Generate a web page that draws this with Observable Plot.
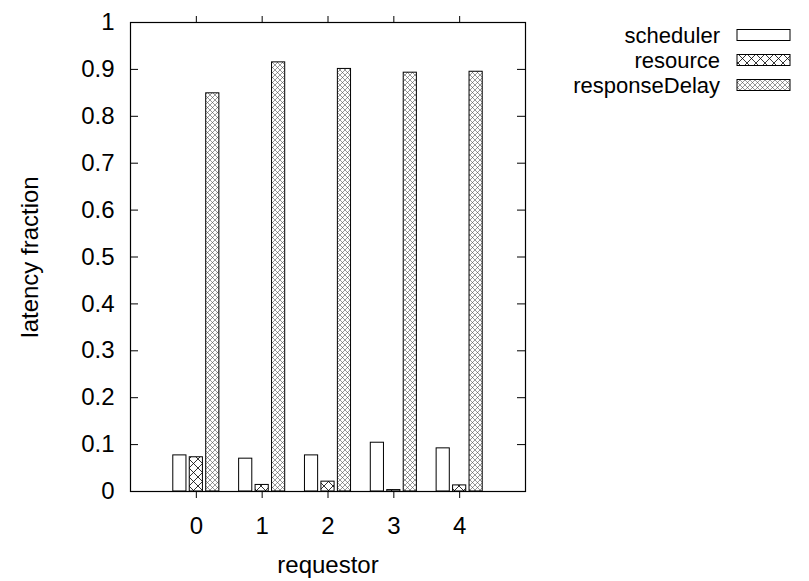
<!DOCTYPE html>
<html>
<head>
<meta charset="utf-8">
<script src="https://cdn.jsdelivr.net/npm/d3@7"></script>
<script src="https://cdn.jsdelivr.net/npm/@observablehq/plot@0.6"></script>
<style>
  body { margin: 0; background: #fff; }
</style>
</head>
<body>
<div id="chart"></div>
<script>
// Latency breakdown per requestor (fractions of total latency)
const requestors = [0, 1, 2, 3, 4];
const series = ["scheduler", "resource", "responseDelay"];
const scheduler = [0.077, 0.070, 0.077, 0.104, 0.092];
const resource = [0.073, 0.014, 0.021, 0.003, 0.013];
const responseDelay = [0.849, 0.915, 0.901, 0.893, 0.895];
const yTicks = [0, 0.1, 0.2, 0.3, 0.4, 0.5, 0.6, 0.7, 0.8, 0.9, 1];

const W = 809, H = 581;
const M = {top: 22, right: 284, bottom: 90, left: 130};
const plotW = W - M.left - M.right;
const FONT = "'Liberation Sans', Arial, Helvetica, sans-serif";

// clustered histogram layout: three bars per requestor
const slot = 0.25, barWidth = 0.2;
const valuesBySeries = {scheduler, resource, responseDelay};
const fills = {
  scheduler: "white",
  resource: "url(#pat-cross)",
  responseDelay: "url(#pat-dense)"
};
const bars = s => {
  const j = series.indexOf(s);
  return requestors.map((r, i) => ({
    requestor: r,
    value: valuesBySeries[s][i],
    x1: r + (j - 1) * slot - barWidth / 2,
    x2: r + (j - 1) * slot + barWidth / 2
  }));
};

// hatch patterns for the bar fills
function patterns() {
  const defs = d3.create("svg:defs");
  const cross = defs.append("pattern")
    .attr("id", "pat-cross").attr("patternUnits", "userSpaceOnUse")
    .attr("width", 9).attr("height", 9);
  cross.append("rect").attr("width", 9).attr("height", 9).attr("fill", "white");
  cross.append("path").attr("d", "M0,0L9,9M9,0L0,9")
    .attr("stroke", "black").attr("stroke-width", 0.8).attr("fill", "none");
  const dense = defs.append("pattern")
    .attr("id", "pat-dense").attr("patternUnits", "userSpaceOnUse")
    .attr("width", 5).attr("height", 5);
  dense.append("rect").attr("width", 5).attr("height", 5).attr("fill", "white");
  dense.append("path").attr("d", "M0,0L5,5M5,0L0,5")
    .attr("stroke", "#444").attr("stroke-width", 0.55).attr("fill", "none");
  return defs.node();
}

// key in the top-right corner, outside the frame
function legend(index, scales, values, dims) {
  const xr = dims.width - dims.marginRight;
  const g = d3.create("svg:g")
    .attr("font-family", FONT).attr("font-size", 22);
  series.forEach((s, j) => {
    const cy = dims.marginTop + 13 + j * 25;
    g.append("text").attr("x", xr + 195).attr("y", cy)
      .attr("text-anchor", "end").attr("dy", "0.35em").attr("fill", "black").text(s);
    g.append("rect").attr("x", xr + 212).attr("y", cy - 5.5)
      .attr("width", 53).attr("height", 11)
      .attr("fill", fills[s]).attr("stroke", "black").attr("stroke-width", 1);
  });
  return g.node();
}

const chart = Plot.plot({
  width: W,
  height: H,
  marginTop: M.top,
  marginRight: M.right,
  marginBottom: M.bottom,
  marginLeft: M.left,
  style: {fontFamily: FONT, fontSize: "24px", color: "black", background: "white"},
  x: {domain: [-1, 5]},
  y: {domain: [0, 1]},
  marks: [
    patterns,
    ...series.map(s => Plot.rectY(bars(s), {
      x1: "x1", x2: "x2", y1: 0, y2: "value",
      fill: fills[s], stroke: "black", strokeWidth: 1
    })),
    // inward y ticks on both sides of the frame
    Plot.tickY(yTicks, {y: d => d, insetRight: plotW - 8, stroke: "black"}),
    Plot.tickY(yTicks, {y: d => d, insetLeft: plotW - 8, stroke: "black"}),
    Plot.axisY({ticks: yTicks, tickSize: 0, tickPadding: 16, tickFormat: d => String(d), label: null}),
    Plot.axisX({ticks: requestors, tickSize: 7, tickPadding: 18, tickFormat: d => String(d), label: null, anchor: "bottom"}),
    Plot.axisX({ticks: requestors, tickSize: 7, tickFormat: () => "", label: null, anchor: "top"}),
    Plot.frame({stroke: "black", strokeWidth: 1.2}),
    Plot.text(["requestor"], {frameAnchor: "bottom", dy: 81, text: d => d, fill: "black"}),
    Plot.text(["latency fraction"], {frameAnchor: "left", dx: -100, rotate: -90, textAnchor: "middle", text: d => d, fill: "black"}),
    legend
  ]
});

document.getElementById("chart").appendChild(chart);
</script>
</body>
</html>
